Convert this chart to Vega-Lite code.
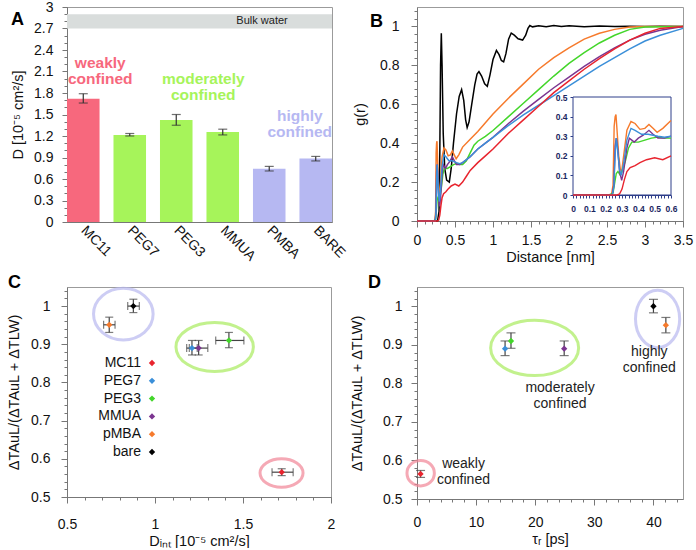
{
"$schema": "https://vega.github.io/schema/vega-lite/v6.json",
"background": "white",
"padding": {"left": 6, "top": -1, "right": 5, "bottom": 0},
"columns": 2,
"spacing": {"row": 65, "column": 85},
"bounds": "flush",
"resolve": {"scale": {"color": "independent", "stroke": "independent"}, "legend": {"color": "independent"}},
"config": {
  "font": "Liberation Sans",
  "view": {"stroke": "#9b9b9b", "strokeWidth": 1},
  "axis": {"grid": false, "domainColor": "#777", "tickColor": "#777", "labelColor": "#111", "labelFontSize": 14, "titleFontSize": 14.5, "titleFontWeight": "normal", "titleColor": "#111", "tickSize": 6, "labelPadding": 7, "labelOverlap": false, "labelBound": false, "labelFlush": false},
  "title": {"fontSize": 18, "fontWeight": "bold", "anchor": "start", "frame": "group", "baseline": "middle", "offset": 0, "color": "#000"}
},
"datasets": {
  "bars": [
    {"s": "MC11", "D": 1.72, "lo": 1.66, "hi": 1.79, "g": "weakly"},
    {"s": "PEG7", "D": 1.215, "lo": 1.2, "hi": 1.235, "g": "moderately"},
    {"s": "PEG3", "D": 1.425, "lo": 1.35, "hi": 1.5, "g": "moderately"},
    {"s": "MMUA", "D": 1.255, "lo": 1.215, "hi": 1.295, "g": "moderately"},
    {"s": "PMBA", "D": 0.744, "lo": 0.712, "hi": 0.776, "g": "highly"},
    {"s": "BARE", "D": 0.885, "lo": 0.852, "hi": 0.915, "g": "highly"}
  ],
  "pts": [
    {"s": "MC11", "D": 1.72, "Dlo": 1.665, "Dhi": 1.785, "R": 0.565, "Rlo": 0.556, "Rhi": 0.574, "tau": 0.6},
    {"s": "PEG7", "D": 1.21, "Dlo": 1.18, "Dhi": 1.24, "R": 0.89, "Rlo": 0.872, "Rhi": 0.91, "tau": 14.9},
    {"s": "PEG3", "D": 1.42, "Dlo": 1.345, "Dhi": 1.505, "R": 0.91, "Rlo": 0.891, "Rhi": 0.931, "tau": 15.9},
    {"s": "MMUA", "D": 1.248, "Dlo": 1.195, "Dhi": 1.3, "R": 0.89, "Rlo": 0.872, "Rhi": 0.91, "tau": 24.9},
    {"s": "pMBA", "D": 0.74, "Dlo": 0.708, "Dhi": 0.773, "R": 0.951, "Rlo": 0.931, "Rhi": 0.971, "tau": 42.1},
    {"s": "bare", "D": 0.877, "Dlo": 0.845, "Dhi": 0.911, "R": 1.0, "Rlo": 0.983, "Rhi": 1.018, "tau": 40.0}
  ],
  "gr": [
    {"s":"bare","r":0,"g":0},{"s":"bare","r":0.27,"g":0},{"s":"bare","r":0.29,"g":0.05},{"s":"bare","r":0.30,"g":0.35},{"s":"bare","r":0.31,"g":0.8},{"s":"bare","r":0.32,"g":0.965},{"s":"bare","r":0.33,"g":0.8},{"s":"bare","r":0.345,"g":0.45},{"s":"bare","r":0.365,"g":0.27},{"s":"bare","r":0.39,"g":0.21},{"s":"bare","r":0.425,"g":0.2},{"s":"bare","r":0.45,"g":0.27},{"s":"bare","r":0.48,"g":0.4},{"s":"bare","r":0.52,"g":0.55},{"s":"bare","r":0.555,"g":0.64},{"s":"bare","r":0.587,"g":0.675},{"s":"bare","r":0.615,"g":0.62},{"s":"bare","r":0.64,"g":0.52},{"s":"bare","r":0.66,"g":0.48},{"s":"bare","r":0.685,"g":0.51},{"s":"bare","r":0.72,"g":0.6},{"s":"bare","r":0.76,"g":0.7},{"s":"bare","r":0.79,"g":0.755},{"s":"bare","r":0.815,"g":0.768},{"s":"bare","r":0.85,"g":0.745},{"s":"bare","r":0.89,"g":0.705},{"s":"bare","r":0.925,"g":0.692},{"s":"bare","r":0.96,"g":0.75},{"s":"bare","r":1.0,"g":0.83},{"s":"bare","r":1.045,"g":0.877},{"s":"bare","r":1.08,"g":0.855},{"s":"bare","r":1.11,"g":0.825},{"s":"bare","r":1.14,"g":0.818},{"s":"bare","r":1.17,"g":0.86},{"s":"bare","r":1.205,"g":0.935},{"s":"bare","r":1.24,"g":0.966},{"s":"bare","r":1.28,"g":0.955},{"s":"bare","r":1.33,"g":0.937},{"s":"bare","r":1.39,"g":0.93},{"s":"bare","r":1.43,"g":0.955},{"s":"bare","r":1.46,"g":0.99},{"s":"bare","r":1.485,"g":1.005},{"s":"bare","r":1.52,"g":0.998},{"s":"bare","r":1.6,"g":1.004},{"s":"bare","r":1.7,"g":0.999},{"s":"bare","r":1.8,"g":1.005},{"s":"bare","r":1.9,"g":1.0},{"s":"bare","r":2.0,"g":1.003},{"s":"bare","r":2.2,"g":0.999},{"s":"bare","r":2.4,"g":1.002},{"s":"bare","r":2.6,"g":1.0},{"s":"bare","r":2.8,"g":1.001},{"s":"bare","r":3.0,"g":1.0},{"s":"bare","r":3.2,"g":1.001},{"s":"bare","r":3.5,"g":1.0},
    {"s":"pMBA","r":0,"g":0},{"s":"pMBA","r":0.235,"g":0},{"s":"pMBA","r":0.245,"g":0.05},{"s":"pMBA","r":0.252,"g":0.35},{"s":"pMBA","r":0.258,"g":0.4},{"s":"pMBA","r":0.263,"g":0.41},{"s":"pMBA","r":0.268,"g":0.35},{"s":"pMBA","r":0.28,"g":0.2},{"s":"pMBA","r":0.29,"g":0.13},{"s":"pMBA","r":0.298,"g":0.12},{"s":"pMBA","r":0.31,"g":0.2},{"s":"pMBA","r":0.33,"g":0.33},{"s":"pMBA","r":0.355,"g":0.375},{"s":"pMBA","r":0.38,"g":0.365},{"s":"pMBA","r":0.41,"g":0.335},{"s":"pMBA","r":0.44,"g":0.34},{"s":"pMBA","r":0.465,"g":0.36},{"s":"pMBA","r":0.49,"g":0.34},{"s":"pMBA","r":0.515,"g":0.32},{"s":"pMBA","r":0.55,"g":0.34},{"s":"pMBA","r":0.6,"g":0.38},{"s":"pMBA","r":0.7,"g":0.42},{"s":"pMBA","r":0.8,"g":0.46},{"s":"pMBA","r":0.9,"g":0.505},{"s":"pMBA","r":1.0,"g":0.55},{"s":"pMBA","r":1.2,"g":0.63},{"s":"pMBA","r":1.4,"g":0.705},{"s":"pMBA","r":1.6,"g":0.78},{"s":"pMBA","r":1.8,"g":0.84},{"s":"pMBA","r":2.0,"g":0.89},{"s":"pMBA","r":2.2,"g":0.935},{"s":"pMBA","r":2.4,"g":0.965},{"s":"pMBA","r":2.6,"g":0.985},{"s":"pMBA","r":2.8,"g":0.997},{"s":"pMBA","r":3.0,"g":1.0},{"s":"pMBA","r":3.5,"g":1.0},
    {"s":"PEG3","r":0,"g":0},{"s":"PEG3","r":0.22,"g":0},{"s":"PEG3","r":0.245,"g":0.01},{"s":"PEG3","r":0.255,"g":0.06},{"s":"PEG3","r":0.265,"g":0.11},{"s":"PEG3","r":0.275,"g":0.12},{"s":"PEG3","r":0.29,"g":0.1},{"s":"PEG3","r":0.3,"g":0.12},{"s":"PEG3","r":0.32,"g":0.17},{"s":"PEG3","r":0.34,"g":0.24},{"s":"PEG3","r":0.36,"g":0.27},{"s":"PEG3","r":0.4,"g":0.27},{"s":"PEG3","r":0.44,"g":0.28},{"s":"PEG3","r":0.48,"g":0.29},{"s":"PEG3","r":0.52,"g":0.295},{"s":"PEG3","r":0.56,"g":0.29},{"s":"PEG3","r":0.6,"g":0.29},{"s":"PEG3","r":0.65,"g":0.31},{"s":"PEG3","r":0.7,"g":0.35},{"s":"PEG3","r":0.75,"g":0.39},{"s":"PEG3","r":0.8,"g":0.41},{"s":"PEG3","r":0.9,"g":0.435},{"s":"PEG3","r":1.0,"g":0.465},{"s":"PEG3","r":1.2,"g":0.535},{"s":"PEG3","r":1.4,"g":0.605},{"s":"PEG3","r":1.6,"g":0.675},{"s":"PEG3","r":1.8,"g":0.745},{"s":"PEG3","r":2.0,"g":0.81},{"s":"PEG3","r":2.2,"g":0.865},{"s":"PEG3","r":2.4,"g":0.915},{"s":"PEG3","r":2.6,"g":0.955},{"s":"PEG3","r":2.8,"g":0.985},{"s":"PEG3","r":3.0,"g":0.997},{"s":"PEG3","r":3.5,"g":1.0},
    {"s":"MMUA","r":0,"g":0},{"s":"MMUA","r":0.24,"g":0},{"s":"MMUA","r":0.25,"g":0.05},{"s":"MMUA","r":0.258,"g":0.25},{"s":"MMUA","r":0.265,"g":0.29},{"s":"MMUA","r":0.272,"g":0.25},{"s":"MMUA","r":0.285,"g":0.12},{"s":"MMUA","r":0.298,"g":0.075},{"s":"MMUA","r":0.31,"g":0.12},{"s":"MMUA","r":0.33,"g":0.24},{"s":"MMUA","r":0.345,"g":0.29},{"s":"MMUA","r":0.36,"g":0.28},{"s":"MMUA","r":0.375,"g":0.27},{"s":"MMUA","r":0.4,"g":0.29},{"s":"MMUA","r":0.43,"g":0.305},{"s":"MMUA","r":0.465,"g":0.33},{"s":"MMUA","r":0.49,"g":0.31},{"s":"MMUA","r":0.52,"g":0.29},{"s":"MMUA","r":0.56,"g":0.29},{"s":"MMUA","r":0.6,"g":0.3},{"s":"MMUA","r":0.7,"g":0.33},{"s":"MMUA","r":0.8,"g":0.37},{"s":"MMUA","r":0.9,"g":0.4},{"s":"MMUA","r":1.0,"g":0.43},{"s":"MMUA","r":1.2,"g":0.5},{"s":"MMUA","r":1.4,"g":0.565},{"s":"MMUA","r":1.6,"g":0.625},{"s":"MMUA","r":1.8,"g":0.685},{"s":"MMUA","r":2.0,"g":0.74},{"s":"MMUA","r":2.2,"g":0.795},{"s":"MMUA","r":2.4,"g":0.845},{"s":"MMUA","r":2.6,"g":0.89},{"s":"MMUA","r":2.8,"g":0.93},{"s":"MMUA","r":3.0,"g":0.96},{"s":"MMUA","r":3.2,"g":0.98},{"s":"MMUA","r":3.5,"g":1.0},
    {"s":"PEG7","r":0,"g":0},{"s":"PEG7","r":0.24,"g":0},{"s":"PEG7","r":0.25,"g":0.04},{"s":"PEG7","r":0.258,"g":0.2},{"s":"PEG7","r":0.265,"g":0.29},{"s":"PEG7","r":0.272,"g":0.24},{"s":"PEG7","r":0.285,"g":0.13},{"s":"PEG7","r":0.295,"g":0.1},{"s":"PEG7","r":0.31,"g":0.16},{"s":"PEG7","r":0.33,"g":0.28},{"s":"PEG7","r":0.355,"g":0.34},{"s":"PEG7","r":0.38,"g":0.33},{"s":"PEG7","r":0.42,"g":0.31},{"s":"PEG7","r":0.46,"g":0.31},{"s":"PEG7","r":0.52,"g":0.3},{"s":"PEG7","r":0.56,"g":0.295},{"s":"PEG7","r":0.6,"g":0.3},{"s":"PEG7","r":0.7,"g":0.33},{"s":"PEG7","r":0.8,"g":0.37},{"s":"PEG7","r":0.9,"g":0.4},{"s":"PEG7","r":1.0,"g":0.43},{"s":"PEG7","r":1.2,"g":0.49},{"s":"PEG7","r":1.4,"g":0.545},{"s":"PEG7","r":1.6,"g":0.595},{"s":"PEG7","r":1.8,"g":0.645},{"s":"PEG7","r":2.0,"g":0.695},{"s":"PEG7","r":2.2,"g":0.745},{"s":"PEG7","r":2.4,"g":0.795},{"s":"PEG7","r":2.6,"g":0.84},{"s":"PEG7","r":2.8,"g":0.885},{"s":"PEG7","r":3.0,"g":0.925},{"s":"PEG7","r":3.2,"g":0.955},{"s":"PEG7","r":3.5,"g":0.99},
    {"s":"MC11","r":0,"g":0},{"s":"MC11","r":0.27,"g":0},{"s":"MC11","r":0.285,"g":0.005},{"s":"MC11","r":0.3,"g":0.03},{"s":"MC11","r":0.315,"g":0.08},{"s":"MC11","r":0.33,"g":0.12},{"s":"MC11","r":0.35,"g":0.14},{"s":"MC11","r":0.38,"g":0.15},{"s":"MC11","r":0.41,"g":0.165},{"s":"MC11","r":0.45,"g":0.18},{"s":"MC11","r":0.5,"g":0.19},{"s":"MC11","r":0.55,"g":0.18},{"s":"MC11","r":0.6,"g":0.2},{"s":"MC11","r":0.65,"g":0.23},{"s":"MC11","r":0.7,"g":0.26},{"s":"MC11","r":0.8,"g":0.3},{"s":"MC11","r":0.9,"g":0.335},{"s":"MC11","r":1.0,"g":0.37},{"s":"MC11","r":1.2,"g":0.45},{"s":"MC11","r":1.4,"g":0.52},{"s":"MC11","r":1.6,"g":0.59},{"s":"MC11","r":1.8,"g":0.66},{"s":"MC11","r":2.0,"g":0.72},{"s":"MC11","r":2.2,"g":0.78},{"s":"MC11","r":2.4,"g":0.835},{"s":"MC11","r":2.6,"g":0.885},{"s":"MC11","r":2.8,"g":0.93},{"s":"MC11","r":3.0,"g":0.965},{"s":"MC11","r":3.2,"g":0.99},{"s":"MC11","r":3.5,"g":1.0}
  ]
},
"concat": [
{
  "width": 265, "height": 215,
  "title": {"text": "A", "dx": -56, "dy": 33},
  "layer": [
    {"data": {"values": [{}]}, "mark": {"type": "rect", "color": "#d9dddc"},
     "encoding": {"y": {"datum": 2.7, "type": "quantitative", "axis": null}, "y2": {"datum": 2.9}}},
    {"data": {"values": [{"s": "BARE", "t": "Bulk water"}]},
     "mark": {"type": "text", "align": "right", "dx": -28, "fontSize": 11, "color": "#222"},
     "encoding": {"x": {"field": "s", "type": "nominal", "axis": null}, "y": {"datum": 2.8, "type": "quantitative", "axis": null}, "text": {"field": "t"}}},
    {"data": {"name": "bars"}, "mark": {"type": "bar"},
     "encoding": {
       "x": {"field": "s", "type": "nominal", "sort": null, "scale": {"domain": ["MC11","PEG7","PEG3","MMUA","PMBA","BARE"], "paddingInner": 0.3, "paddingOuter": 0},
             "axis": {"title": null, "labelAngle": 45, "labelAlign": "left", "labelBaseline": "middle", "ticks": false, "labelPadding": 6, "labelFontSize": 14}},
       "y": {"field": "D", "type": "quantitative", "scale": {"domain": [0, 3], "nice": false, "zero": false},
             "axis": {"title": "D [10⁻⁵ cm²/s]", "values": [0,0.3,0.6,0.9,1.2,1.5,1.8,2.1,2.4,2.7,3], "format": "~r", "tickSize": 5, "labelPadding": 9, "titlePadding": 8}},
       "color": {"field": "g", "type": "nominal", "scale": {"domain": ["weakly","moderately","highly"], "range": ["#f7687d","#a6f45a","#b6b8f2"]}, "legend": null}}},
    {"data": {"name": "bars"}, "mark": {"type": "rule", "color": "#333", "strokeWidth": 1.2},
     "encoding": {"x": {"field": "s", "type": "nominal", "axis": null}, "y": {"field": "lo", "type": "quantitative", "axis": null}, "y2": {"field": "hi"}}},
    {"data": {"name": "bars"}, "transform": [{"fold": ["lo", "hi"], "as": ["k", "v"]}],
     "mark": {"type": "tick", "orient": "horizontal", "size": 9, "thickness": 1.2, "color": "#333"},
     "encoding": {"x": {"field": "s", "type": "nominal", "axis": null}, "y": {"field": "v", "type": "quantitative", "axis": null}}},
    {"data": {"values": [{"s": "MC11", "y": 2.22, "t": "weakly\nconfined", "g": "weakly"}]},
     "mark": {"type": "text", "dx": 17, "fontSize": 15.5, "fontWeight": "bold", "lineBreak": "\n", "lineHeight": 16},
     "encoding": {"x": {"field": "s", "type": "nominal", "axis": null}, "y": {"field": "y", "type": "quantitative", "axis": null}, "text": {"field": "t"}, "color": {"field": "g", "type": "nominal", "legend": null}}},
    {"data": {"values": [{"s": "PEG3", "y": 1.99, "t": "moderately\nconfined", "g": "moderately"}]},
     "mark": {"type": "text", "dx": 27, "fontSize": 15.5, "fontWeight": "bold", "lineBreak": "\n", "lineHeight": 16},
     "encoding": {"x": {"field": "s", "type": "nominal", "axis": null}, "y": {"field": "y", "type": "quantitative", "axis": null}, "text": {"field": "t"}, "color": {"field": "g", "type": "nominal", "legend": null}}},
    {"data": {"values": [{"s": "BARE", "y": 1.48, "t": "highly\nconfined", "g": "highly"}]},
     "mark": {"type": "text", "dx": -16, "fontSize": 15.5, "fontWeight": "bold", "lineBreak": "\n", "lineHeight": 16},
     "encoding": {"x": {"field": "s", "type": "nominal", "axis": null}, "y": {"field": "y", "type": "quantitative", "axis": null}, "text": {"field": "t"}, "color": {"field": "g", "type": "nominal", "legend": null}}},
    {"data": {"values": [{}]}, "mark": {"type": "point", "opacity": 0},
     "encoding": {"y": {"datum": 0, "type": "quantitative", "scale": {"domain": [0, 3], "nice": false, "zero": false},
       "axis": {"orient": "left", "values": [0,0.1,0.2,0.3,0.4,0.5,0.6,0.7,0.8,0.9,1,1.1,1.2,1.3,1.4,1.5,1.6,1.7,1.8,1.9,2,2.1,2.2,2.3,2.4,2.5,2.6,2.7,2.8,2.9,3], "labels": false, "domain": false, "tickSize": 3, "title": null}}}}
  ],
  "resolve": {"axis": {"x": "independent", "y": "independent"}}
},
{
  "width": 266, "height": 214,
  "title": {"text": "B", "dx": -47, "dy": 28},
  "layer": [
    {"data": {"name": "gr"}, "mark": {"type": "line", "strokeWidth": 1.5},
     "encoding": {
       "x": {"field": "r", "type": "quantitative", "scale": {"domain": [0, 3.5], "nice": false, "zero": false},
             "axis": {"title": "Distance [nm]", "values": [0,0.5,1,1.5,2,2.5,3,3.5], "format": "~r", "labelPadding": 6, "titlePadding": 3}},
       "y": {"field": "g", "type": "quantitative", "scale": {"domain": [0, 1.1], "nice": false, "zero": false},
             "axis": {"title": "g(r)", "values": [0,0.2,0.4,0.6,0.8,1], "format": "~r", "labelPadding": 12, "titlePadding": 12}},
       "color": {"field": "s", "type": "nominal", "scale": {"domain": ["MC11","PEG7","PEG3","MMUA","pMBA","bare"], "range": ["#e8242e","#3b8fd9","#43d62a","#7b3590","#f67a2c","#000000"]}, "legend": null}}},
    {"data": {"values": [{}]}, "mark": {"type": "point", "opacity": 0},
     "encoding": {
       "x": {"datum": 0, "type": "quantitative", "scale": {"domain": [0, 3.5], "nice": false, "zero": false},
             "axis": {"orient": "bottom", "values": [0,0.1,0.2,0.3,0.4,0.5,0.6,0.7,0.8,0.9,1,1.1,1.2,1.3,1.4,1.5,1.6,1.7,1.8,1.9,2,2.1,2.2,2.3,2.4,2.5,2.6,2.7,2.8,2.9,3,3.1,3.2,3.3,3.4,3.5], "labels": false, "domain": false, "tickSize": 3, "title": null}},
       "y": {"datum": 0, "type": "quantitative", "scale": {"domain": [0, 1.1], "nice": false, "zero": false},
             "axis": {"orient": "left", "values": [0,0.04,0.08,0.12,0.16,0.2,0.24,0.28,0.32,0.36,0.4,0.44,0.48,0.52,0.56,0.6,0.64,0.68,0.72,0.76,0.8,0.84,0.88,0.92,0.96,1,1.04,1.08], "labels": false, "domain": false, "tickSize": 3, "title": null}}}},
    {"data": {"values": [{}]}, "mark": {"type": "rect", "fill": "white", "stroke": "#2f3f8a", "strokeWidth": 1},
     "encoding": {
       "x": {"datum": 0, "type": "quantitative", "scale": {"domain": [0, 0.6], "range": [156, 254], "nice": false, "zero": false},
             "axis": {"orient": "bottom", "offset": -26, "title": null, "values": [0,0.02,0.04,0.06,0.08,0.1,0.12,0.14,0.16,0.18,0.2,0.22,0.24,0.26,0.28,0.3,0.32,0.34,0.36,0.38,0.4,0.42,0.44,0.46,0.48,0.5,0.52,0.54,0.56,0.58,0.6], "labelExpr": "abs(datum.value*10 - round(datum.value*10)) < 0.001 ? format(datum.value, '~r') : ''", "labelFontSize": 8.5, "labelColor": "#1a2660", "labelFontWeight": "bold", "domainColor": "#2f3f8a", "tickColor": "#2f3f8a", "tickSize": 3, "labelPadding": 6}},
       "x2": {"datum": 0.6},
       "y": {"datum": 0, "type": "quantitative", "scale": {"domain": [0, 0.5], "range": [188, 90], "nice": false, "zero": false},
             "axis": {"orient": "left", "offset": -156, "title": null, "values": [0,0.1,0.2,0.3,0.4,0.5], "format": "~r", "labelFontSize": 8.5, "labelColor": "#1a2660", "labelFontWeight": "bold", "domainColor": "#2f3f8a", "tickColor": "#2f3f8a", "tickSize": 3, "labelPadding": 3}},
       "y2": {"datum": 0.5}}},
    {"data": {"name": "gr"}, "transform": [{"filter": "datum.r <= 0.6 && datum.s != 'bare'"}],
     "mark": {"type": "line", "strokeWidth": 1.4},
     "encoding": {
       "x": {"field": "r", "type": "quantitative", "scale": {"domain": [0, 0.6], "range": [156, 254], "nice": false, "zero": false}, "axis": null},
       "y": {"field": "g", "type": "quantitative", "scale": {"domain": [0, 0.5], "range": [188, 90], "nice": false, "zero": false}, "axis": null},
       "color": {"field": "s", "type": "nominal", "legend": null}}}
  ],
  "resolve": {"scale": {"x": "independent", "y": "independent"}}
},
{
  "width": 264, "height": 210,
  "title": {"text": "C", "dx": -59, "dy": 14},
  "layer": [
    {"data": {"values": [{"x": 0.82, "y": 0.979}]}, "mark": {"type": "point", "shape": "M-1,0A1,0.866,0,1,0,1,0A1,0.866,0,1,0,-1,0Z", "size": 3552, "filled": false, "stroke": "#b9b9f0", "strokeWidth": 3},
     "encoding": {"x": {"field": "x", "type": "quantitative", "scale": {"zero": false}, "axis": null}, "y": {"field": "y", "type": "quantitative", "scale": {"zero": false}, "axis": null}}},
    {"data": {"values": [{"x": 1.339, "y": 0.893}]}, "mark": {"type": "point", "shape": "M-1,0A1,0.633,0,1,0,1,0A1,0.633,0,1,0,-1,0Z", "size": 5991, "filled": false, "stroke": "#a9ec5e", "strokeWidth": 3},
     "encoding": {"x": {"field": "x", "type": "quantitative", "axis": null}, "y": {"field": "y", "type": "quantitative", "axis": null}}},
    {"data": {"values": [{"x": 1.719, "y": 0.563}]}, "mark": {"type": "point", "shape": "M-1,0A1,0.66,0,1,0,1,0A1,0.66,0,1,0,-1,0Z", "size": 1849, "filled": false, "stroke": "#f28597", "strokeWidth": 3},
     "encoding": {"x": {"field": "x", "type": "quantitative", "axis": null}, "y": {"field": "y", "type": "quantitative", "axis": null}}},
    {"data": {"name": "pts"}, "mark": {"type": "rule", "color": "#444", "strokeWidth": 1.2},
     "encoding": {"x": {"field": "Dlo", "type": "quantitative", "axis": null}, "x2": {"field": "Dhi"}, "y": {"field": "R", "type": "quantitative", "axis": null}}},
    {"data": {"name": "pts"}, "transform": [{"fold": ["Dlo", "Dhi"], "as": ["k", "v"]}],
     "mark": {"type": "tick", "orient": "vertical", "size": 8, "thickness": 1.2, "color": "#444"},
     "encoding": {"x": {"field": "v", "type": "quantitative", "axis": null}, "y": {"field": "R", "type": "quantitative", "axis": null}}},
    {"data": {"name": "pts"}, "mark": {"type": "rule", "color": "#444", "strokeWidth": 1.2},
     "encoding": {"x": {"field": "D", "type": "quantitative", "axis": null}, "y": {"field": "Rlo", "type": "quantitative", "axis": null}, "y2": {"field": "Rhi"}}},
    {"data": {"name": "pts"}, "transform": [{"fold": ["Rlo", "Rhi"], "as": ["k", "v"]}],
     "mark": {"type": "tick", "orient": "horizontal", "size": 8, "thickness": 1.2, "color": "#444"},
     "encoding": {"x": {"field": "D", "type": "quantitative", "axis": null}, "y": {"field": "v", "type": "quantitative", "axis": null}}},
    {"data": {"name": "pts"}, "mark": {"type": "point", "shape": "diamond", "filled": true, "size": 40, "opacity": 1},
     "encoding": {
       "x": {"field": "D", "type": "quantitative", "scale": {"domain": [0.5, 2], "nice": false, "zero": false},
             "axis": {"title": "Dᵢₙₜ [10⁻⁵ cm²/s]", "values": [0.5,1,1.5,2], "format": "~r", "labelPadding": 14, "titlePadding": 3}},
       "y": {"field": "R", "type": "quantitative", "scale": {"domain": [0.5, 1.05], "nice": false, "zero": false},
             "axis": {"title": "ΔTAuL/(ΔTAuL + ΔTLW)", "values": [0.5,0.6,0.7,0.8,0.9,1], "format": "~r", "labelPadding": 11, "titlePadding": 9}},
       "color": {"field": "s", "type": "nominal", "scale": {"domain": ["MC11","PEG7","PEG3","MMUA","pMBA","bare"], "range": ["#e8242e","#3b8fd9","#43d62a","#7b3590","#f67a2c","#000000"]},
             "legend": {"orient": "none", "legendX": 63, "legendY": 69, "title": null, "labelAlign": "right", "labelOffset": -18, "symbolOffset": 15, "labelFontSize": 14, "labelColor": "#111", "symbolSize": 40, "rowPadding": 3.8, "padding": 0}}}},
    {"data": {"values": [{}]}, "mark": {"type": "point", "opacity": 0},
     "encoding": {
       "x": {"datum": 0.5, "type": "quantitative", "scale": {"domain": [0.5, 2], "nice": false, "zero": false},
             "axis": {"orient": "bottom", "values": [0.5,0.6,0.7,0.8,0.9,1,1.1,1.2,1.3,1.4,1.5,1.6,1.7,1.8,1.9,2], "labels": false, "domain": false, "tickSize": 3, "title": null}},
       "y": {"datum": 0.5, "type": "quantitative", "scale": {"domain": [0.5, 1.05], "nice": false, "zero": false},
             "axis": {"orient": "left", "values": [0.5,0.52,0.54,0.56,0.58,0.6,0.62,0.64,0.66,0.68,0.7,0.72,0.74,0.76,0.78,0.8,0.82,0.84,0.86,0.88,0.9,0.92,0.94,0.96,0.98,1,1.02,1.04], "labels": false, "domain": false, "tickSize": 3, "title": null}}}}
  ],
  "resolve": {"axis": {"x": "independent", "y": "independent"}}
},
{
  "width": 266, "height": 212,
  "title": {"text": "D", "dx": -49, "dy": 12},
  "layer": [
    {"data": {"values": [{"x": 40.7, "y": 0.967}]}, "mark": {"type": "point", "shape": "M-0.77,0A0.77,1,0,1,0,0.77,0A0.77,1,0,1,0,-0.77,0Z", "size": 3295, "filled": false, "stroke": "#b9b9f0", "strokeWidth": 3},
     "encoding": {"x": {"field": "x", "type": "quantitative", "axis": null}, "y": {"field": "y", "type": "quantitative", "axis": null}}},
    {"data": {"values": [{"x": 19.9, "y": 0.892}]}, "mark": {"type": "point", "shape": "M-1,0A1,0.63,0,1,0,1,0A1,0.63,0,1,0,-1,0Z", "size": 7744, "filled": false, "stroke": "#a9ec5e", "strokeWidth": 3},
     "encoding": {"x": {"field": "x", "type": "quantitative", "axis": null}, "y": {"field": "y", "type": "quantitative", "axis": null}}},
    {"data": {"values": [{"x": 0.62, "y": 0.567}]}, "mark": {"type": "point", "shape": "M-1,0A1,0.93,0,1,0,1,0A1,0.93,0,1,0,-1,0Z", "size": 750, "filled": false, "stroke": "#f28597", "strokeWidth": 3},
     "encoding": {"x": {"field": "x", "type": "quantitative", "axis": null}, "y": {"field": "y", "type": "quantitative", "axis": null}}},
    {"data": {"name": "pts"}, "mark": {"type": "rule", "color": "#444", "strokeWidth": 1.2},
     "encoding": {"x": {"field": "tau", "type": "quantitative", "axis": null}, "y": {"field": "Rlo", "type": "quantitative", "axis": null}, "y2": {"field": "Rhi"}}},
    {"data": {"name": "pts"}, "transform": [{"fold": ["Rlo", "Rhi"], "as": ["k", "v"]}],
     "mark": {"type": "tick", "orient": "horizontal", "size": 9, "thickness": 1.2, "color": "#444"},
     "encoding": {"x": {"field": "tau", "type": "quantitative", "axis": null}, "y": {"field": "v", "type": "quantitative", "axis": null}}},
    {"data": {"name": "pts"}, "mark": {"type": "point", "shape": "diamond", "filled": true, "size": 40, "opacity": 1},
     "encoding": {
       "x": {"field": "tau", "type": "quantitative", "scale": {"domain": [0, 45], "nice": false, "zero": false},
             "axis": {"title": "τᵣ [ps]", "values": [0,10,20,30,40], "format": "d", "labelPadding": 10, "titlePadding": 3}},
       "y": {"field": "R", "type": "quantitative", "scale": {"domain": [0.5, 1.05], "nice": false, "zero": false},
             "axis": {"title": "ΔTAuL/(ΔTAuL + ΔTLW)", "values": [0.5,0.6,0.7,0.8,0.9,1], "format": "~r", "labelPadding": 9, "titlePadding": 18}},
       "color": {"field": "s", "type": "nominal", "scale": {"domain": ["MC11","PEG7","PEG3","MMUA","pMBA","bare"], "range": ["#e8242e","#3b8fd9","#43d62a","#7b3590","#f67a2c","#000000"]}, "legend": null}}},
    {"data": {"values": [{"x": 24.2, "y": 0.787, "t": "moderately\nconfined"}, {"x": 39.3, "y": 0.881, "t": "highly\nconfined"}, {"x": 7.87, "y": 0.591, "t": "weakly\nconfined"}]},
     "mark": {"type": "text", "fontSize": 14, "lineBreak": "\n", "lineHeight": 16, "color": "#222"},
     "encoding": {"x": {"field": "x", "type": "quantitative", "axis": null}, "y": {"field": "y", "type": "quantitative", "axis": null}, "text": {"field": "t"}}},
    {"data": {"values": [{}]}, "mark": {"type": "point", "opacity": 0},
     "encoding": {
       "x": {"datum": 0, "type": "quantitative", "scale": {"domain": [0, 45], "nice": false, "zero": false},
             "axis": {"orient": "bottom", "values": [0,2,4,6,8,10,12,14,16,18,20,22,24,26,28,30,32,34,36,38,40,42,44], "labels": false, "domain": false, "tickSize": 3, "title": null}},
       "y": {"datum": 0.5, "type": "quantitative", "scale": {"domain": [0.5, 1.05], "nice": false, "zero": false},
             "axis": {"orient": "left", "values": [0.5,0.52,0.54,0.56,0.58,0.6,0.62,0.64,0.66,0.68,0.7,0.72,0.74,0.76,0.78,0.8,0.82,0.84,0.86,0.88,0.9,0.92,0.94,0.96,0.98,1,1.02,1.04], "labels": false, "domain": false, "tickSize": 3, "title": null}}}}
  ],
  "resolve": {"axis": {"x": "independent", "y": "independent"}}
}
]
}
